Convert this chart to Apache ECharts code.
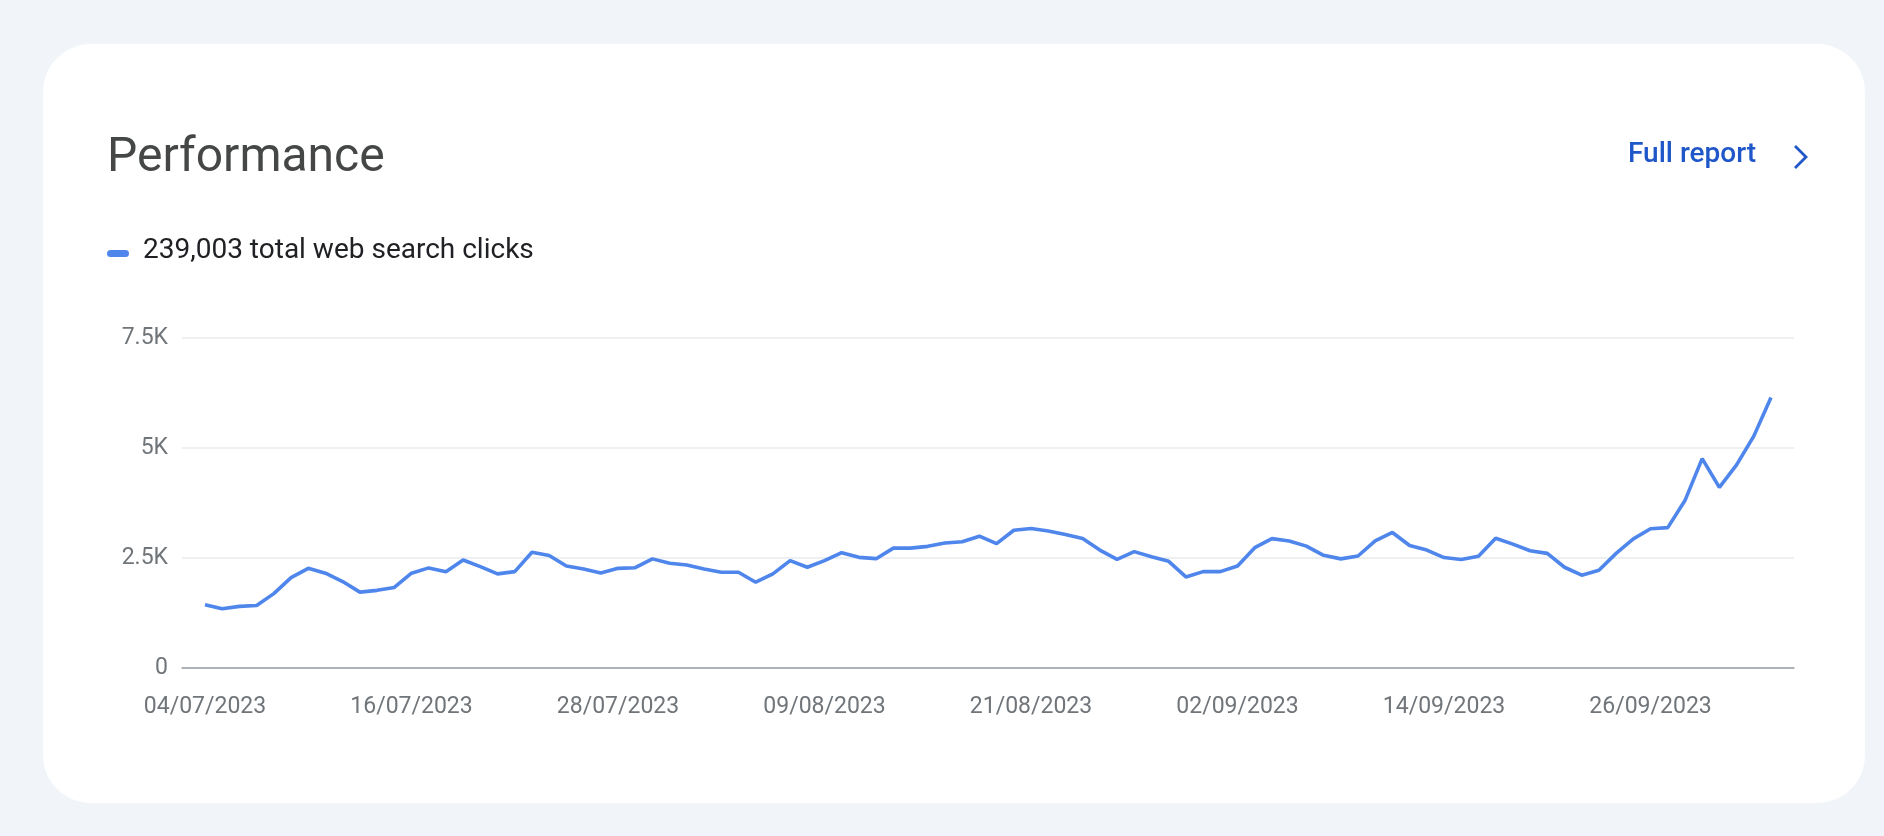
<!DOCTYPE html>
<html>
<head>
<meta charset="utf-8">
<style>
  html, body { margin: 0; padding: 0; background: #f1f5fa; }
  #chart { width: 1884px; height: 836px; }
</style>
<script src="https://cdn.jsdelivr.net/npm/echarts@6/dist/echarts.min.js"></script>
</head>
<body>
<div id="chart"></div>
<script>
// 数据
var startDate = new Date(2023, 6, 4);
var clicks = [
  1440, 1345, 1400, 1420, 1690, 2055, 2265, 2155, 1965, 1725,
  1765, 1830, 2155, 2275, 2190, 2455, 2305, 2140, 2190, 2630,
  2555, 2320, 2250, 2160, 2265, 2280, 2480, 2380, 2340, 2250,
  2175, 2175, 1950, 2140, 2440, 2290, 2440, 2620, 2515, 2485,
  2725, 2725, 2765, 2840, 2870, 2995, 2825, 3130, 3170, 3115,
  3035, 2945, 2680, 2470, 2645, 2530, 2425, 2070, 2190, 2190,
  2320, 2735, 2940, 2885, 2770, 2560, 2480, 2545, 2890, 3080,
  2785, 2680, 2510, 2465, 2540, 2950, 2815, 2665, 2605, 2290,
  2110, 2220, 2605, 2935, 3165, 3190, 3805, 4760, 4105, 4615,
  5270, 6150
];
var yTicks = [0, 2500, 5000, 7500];
var title = 'Performance';
var legendText = '239,003 total web search clicks';

function pad(n) { return (n < 10 ? '0' : '') + n; }
var dates = clicks.map(function (v, i) {
  var d = new Date(startDate.getTime() + i * 86400000);
  return pad(d.getDate()) + '/' + pad(d.getMonth() + 1) + '/' + d.getFullYear();
});

var myChart = echarts.init(document.getElementById('chart'));
var font = 'Roboto, "Noto Sans", sans-serif';

var option = {
  animation: false,
  textStyle: { fontFamily: font },
  graphic: [
    { type: 'rect', z: -10, shape: { x: 43, y: 44, width: 1822, height: 759, r: 48 }, style: { fill: '#ffffff' } },
    { type: 'text', left: 107, top: 135, style: { text: title, font: '400 48px ' + font, fill: '#444746' } },
    { type: 'text', left: 1628, top: 141, style: { text: 'Full report', font: '500 28px ' + font, fill: '#1f57c9' } },
    { type: 'polyline', shape: { points: [[1795, 146], [1806, 157], [1795, 168]] }, style: { stroke: '#1f57c9', lineWidth: 2.8, fill: null } },
    { type: 'rect', shape: { x: 107, y: 250, width: 22, height: 7, r: 3.5 }, style: { fill: '#4f86ec' } },
    { type: 'text', left: 143, top: 237, style: { text: legendText, font: '400 28px ' + font, fill: '#202124' } }
  ],
  grid: [
    { left: 182, right: 90, top: 338, bottom: 168 },
    { left: 205, right: 113, top: 338, bottom: 168 }
  ],
  xAxis: [
    {
      gridIndex: 0, type: 'value', min: 0, max: 1,
      axisLine: { show: true, lineStyle: { color: '#9aa0a6', width: 1.5 } },
      axisTick: { show: false }, axisLabel: { show: false }, splitLine: { show: false }
    },
    {
      gridIndex: 1, type: 'category', boundaryGap: false, data: dates,
      axisLine: { show: false }, axisTick: { show: false },
      axisLabel: {
        interval: function (i) { return i % 12 === 0; },
        hideOverlap: false,
        color: '#70757a', fontSize: 23, margin: 28
      }
    }
  ],
  yAxis: [
    {
      gridIndex: 0, type: 'value', min: 0, max: 7500, interval: 2500,
      axisLine: { show: false }, axisTick: { show: false },
      axisLabel: {
        color: '#70757a', fontSize: 23, margin: 14,
        formatter: function (v) { return v === 0 ? '0' : (v / 1000) + 'K'; }
      },
      splitLine: { lineStyle: { color: '#e8eaed', width: 1.5 } }
    },
    {
      gridIndex: 1, type: 'value', min: 0, max: 7500, interval: 2500,
      axisLine: { show: false }, axisTick: { show: false }, axisLabel: { show: false }, splitLine: { show: false }
    }
  ],
  series: [
    {
      name: 'Clicks', type: 'line', xAxisIndex: 1, yAxisIndex: 1,
      data: clicks, showSymbol: false,
      lineStyle: { color: '#4f86ec', width: 3.6 }
    }
  ]
};

myChart.setOption(option);
</script>
</body>
</html>
